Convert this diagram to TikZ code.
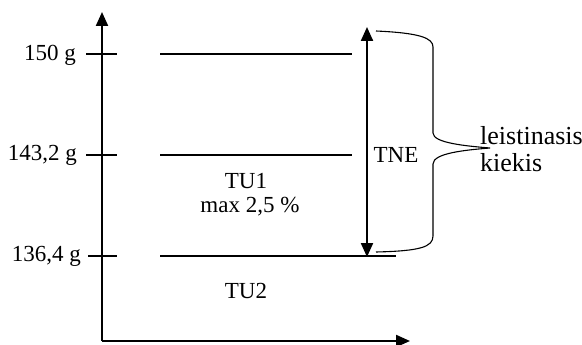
\documentclass[tikz,border=0pt]{standalone}
\usepackage{fontspec}
\setmainfont{Liberation Serif}
\usetikzlibrary{arrows.meta}
\begin{document}
\begin{tikzpicture}[x=1pt,y=-1pt,
  thickline/.style={line width=2.2pt},
  axisarrow/.style={line width=2.2pt,-{Triangle[length=14pt,width=12pt]}},
  dblarrow/.style={line width=2.2pt,{Triangle[length=14pt,width=12pt]}-{Triangle[length=14pt,width=12pt]}},
  bracestyle/.style={line width=1.1pt},
  lbl/.style={font=\fontsize{23}{26}\selectfont, inner sep=0pt},
  biglbl/.style={font=\fontsize{26}{29}\selectfont, inner sep=0pt, align=left}]
\useasboundingbox (0,0) rectangle (582,345);
% axes
\coordinate (O) at (102,341);
\coordinate (Ytop) at (102,12);
\coordinate (Xend) at (410,341);
\draw[axisarrow] (O) -- (Ytop);
\draw[axisarrow] (O) -- (Xend);
% ticks
\coordinate (t1a) at (86,54); \coordinate (t1b) at (117,54);
\coordinate (t2a) at (86,155); \coordinate (t2b) at (117,155);
\coordinate (t3a) at (88,256); \coordinate (t3b) at (117,256);
\draw[thickline] (t1a) -- (t1b);
\draw[thickline] (t2a) -- (t2b);
\draw[thickline] (t3a) -- (t3b);
% level lines
\coordinate (l1a) at (160,54); \coordinate (l1b) at (352,54);
\coordinate (l2a) at (160,155); \coordinate (l2b) at (352,155);
\coordinate (l3a) at (160,256); \coordinate (l3b) at (396,256);
\draw[thickline] (l1a) -- (l1b);
\draw[thickline] (l2a) -- (l2b);
\draw[thickline] (l3a) -- (l3b);
% labels
\node[lbl, anchor=east] (g150) at (76,55) {150 g};
\node[lbl, anchor=east] (g143) at (77,155) {143,2 g};
\node[lbl, anchor=east] (g136) at (81,256) {136,4 g};
\node[lbl] (tu1) at (246,181) {TU1};
\node[lbl] (max) at (250,207) {max 2,5 \%};
\node[lbl] (tu2) at (246,291) {TU2};
% TNE arrow
\coordinate (Ttop) at (367,27);
\coordinate (Tbot) at (367,257);
\draw[dblarrow] (Tbot) -- (Ttop);
\node[lbl] (tne) at (396,155) {TNE};
% brace
\coordinate (b1) at (376,31);
\coordinate (b2) at (433,47);
\coordinate (b3) at (433,133);
\coordinate (tip) at (490,148);
\coordinate (b4) at (433,164);
\coordinate (b5) at (433,236);
\coordinate (b6) at (376,252);
\draw[bracestyle] (b1) .. controls (420,33) and (433,38) .. (b2) -- (b3)
  .. controls (433,143) and (466,146) .. (tip)
  .. controls (466,150) and (433,153) .. (b4) -- (b5)
  .. controls (433,247) and (420,251) .. (b6);
\node[biglbl, anchor=west] (leist) at (480,136) {leistinasis};
\node[biglbl, anchor=west] (kiek) at (480,163) {kiekis};
\end{tikzpicture}
\end{document}
